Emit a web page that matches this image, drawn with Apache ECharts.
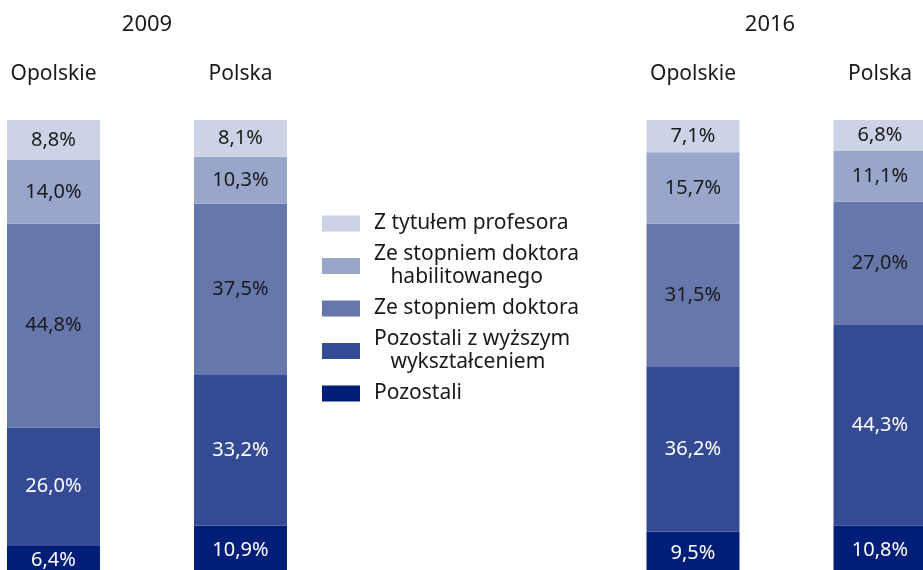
<!DOCTYPE html>
<html>
<head>
<meta charset="utf-8">
<script src="https://cdn.jsdelivr.net/npm/echarts@6/dist/echarts.min.js"></script>
<style>
html,body{margin:0;padding:0;background:#fff;}
#chart{width:923px;height:570px;}
</style>
</head>
<body>
<div id="chart"></div>
<script>
// Data (order within each array: Opolskie 2009, Polska 2009, Opolskie 2016, Polska 2016)
const categories = ['Opolskie', 'Polska'];
const years = ['2009', '2016'];
const seriesNames = ['Pozostali', 'Pozostali z wyższym wykształceniem', 'Ze stopniem doktora', 'Ze stopniem doktora habilitowanego', 'Z tytułem profesora'];
const pozostali = [6.4, 10.9, 9.5, 10.8];
const wyzsze = [26.0, 33.2, 36.2, 44.3];
const doktor = [44.8, 37.5, 31.5, 27.0];
const habil = [14.0, 10.3, 15.7, 11.1];
const profesor = [8.8, 8.1, 7.1, 6.8];

const values = [pozostali, wyzsze, doktor, habil, profesor];
const colors = ['#001e78', '#344a92', '#6677ac', '#99a6cb', '#cdd3e6'];
const labelColors = ['#ffffff', '#ffffff', '#1a1a1a', '#1a1a1a', '#1a1a1a'];
const legendText = {
  'Ze stopniem doktora habilitowanego': 'Ze stopniem doktora\n   habilitowanego',
  'Pozostali z wyższym wykształceniem': 'Pozostali z wyższym\n   wykształceniem'
};
const FONT = '"Noto Sans", sans-serif';

const grids = [
  {left: 53.5, width: 187, top: 120, height: 455, outerBoundsMode: 'none', containLabel: false},
  {left: 693, width: 187, top: 120, height: 455, outerBoundsMode: 'none', containLabel: false}
];
const xAxes = grids.map((g, i) => ({
  type: 'category', gridIndex: i, data: categories, position: 'top', boundaryGap: false,
  axisLine: {show: false}, axisTick: {show: false}, splitLine: {show: false},
  axisLabel: {fontSize: 21, color: '#1a1a1a', fontFamily: FONT, margin: 35}
}));
const yAxes = grids.map((g, i) => ({type: 'value', gridIndex: i, min: 0, max: 100, show: false}));

const series = [];
grids.forEach((g, gi) => {
  values.forEach((arr, si) => {
    series.push({
      type: 'bar', name: seriesNames[si], xAxisIndex: gi, yAxisIndex: gi,
      stack: 'g' + gi, barWidth: 93, clip: false,
      itemStyle: {color: colors[si]},
      label: {
        show: true, position: 'inside', fontSize: 20, fontFamily: FONT, color: labelColors[si],
        formatter: p => p.value.toFixed(1).replace('.', ',') + '%'
      },
      data: [arr[gi * 2], arr[gi * 2 + 1]]
    });
  });
});

const chart = echarts.init(document.getElementById('chart'));
chart.setOption({
  animation: false,
  grid: grids,
  xAxis: xAxes,
  yAxis: yAxes,
  legend: {
    orient: 'vertical', left: 322, top: 212, padding: 0, itemWidth: 38, itemHeight: 16, itemGap: 8,
    icon: 'rect', selectedMode: false,
    data: seriesNames.slice().reverse(),
    formatter: n => legendText[n] || n,
    textStyle: {fontSize: 21, lineHeight: 23, color: '#1a1a1a', fontFamily: FONT, padding: [0, 0, 0, 9]}
  },
  graphic: [
    {type: 'text', x: 147, y: 25, style: {text: years[0], fontSize: 22, fontFamily: FONT, fill: '#1a1a1a', textAlign: 'center', textVerticalAlign: 'middle'}},
    {type: 'text', x: 770, y: 25, style: {text: years[1], fontSize: 22, fontFamily: FONT, fill: '#1a1a1a', textAlign: 'center', textVerticalAlign: 'middle'}}
  ],
  series: series
});
</script>
</body>
</html>
